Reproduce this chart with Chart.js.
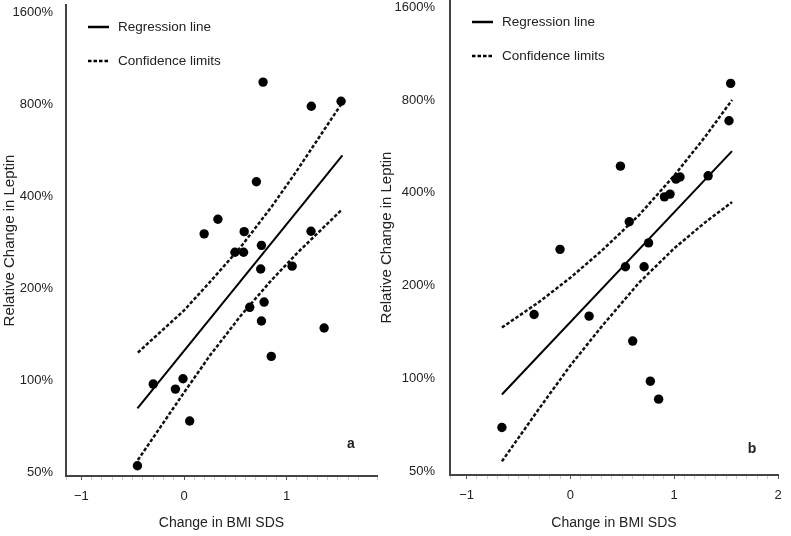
<!DOCTYPE html>
<html lang="en">
<head>
    <meta charset="UTF-8">
    <title>Relative Change in Leptin vs Change in BMI SDS</title>
    <script src="https://cdn.jsdelivr.net/npm/chart.js@4.4.1/dist/chart.umd.min.js"></script>
    <style>
        body { margin: 0; background: #fff; }
        #wrap { position: relative; width: 791px; height: 536px; }
        canvas { position: absolute; top: 0; }
        #chartA { left: 0; }
        #chartB { left: 378px; }
    </style>
</head>
<body>
    <div id="wrap">
        <canvas id="chartA" width="395" height="536"></canvas>
        <canvas id="chartB" width="413" height="536"></canvas>
    </div>
    <script>
        // y ticks (percent, log scale)
        const yTicks = [50, 100, 200, 400, 800, 1600];

        // panel a - measured points
        const aX = [0.77, 1.24, 1.53, 0.705, 0.33, 0.196, 0.586, 0.496, 0.58, 0.754, 1.237, 1.053,
                    0.747, 0.64, 0.78, 0.754, 1.365, 0.85, -0.30, -0.01, -0.084, 0.055, -0.454];
        const aY = [945, 788, 818, 446, 336, 301, 306, 262, 262, 276, 307, 236,
                    231, 173, 180, 156, 148, 119.5, 97, 101, 93.4, 73.4, 52.4];
        // panel a - regression line and confidence limits
        const aFitX = [-0.454, 1.543];
        const aFitY = [80.8, 544];
        const aBandX = [-0.45, 0, 0.25, 0.55, 0.85, 1.1, 1.54];
        const aUpperY = [123, 169, 209, 272, 368, 485, 808];
        const aLowerY = [54.7, 91, 120, 162, 212, 260, 362];

        // panel b - measured points
        const bX = [1.544, 1.528, 0.482, 1.327, 1.017, 1.056, 0.906, 0.96, 0.567, -0.10,
                    0.753, 0.53, 0.71, -0.35, 0.18, 0.60, 0.77, 0.85, -0.66];
        const bY = [906, 685, 488, 454, 443, 450, 388, 396, 322, 262,
                    275, 230, 230, 161, 159, 132, 97.8, 85.5, 69.2];
        // panel b - regression line and confidence limits
        const bFitX = [-0.66, 1.557];
        const bFitY = [88.5, 546];
        const bBandX = [-0.66, -0.3, 0, 0.3, 0.66, 1.0, 1.3, 1.557];
        const bUpperY = [146, 177, 212, 259, 338, 455, 609, 800];
        const bLowerY = [53.7, 79.8, 110, 147, 204, 264, 321, 373];

        const FONT = "'Liberation Sans', Arial, Helvetica, sans-serif";
        Chart.defaults.font.family = FONT;
        Chart.defaults.color = '#222';

        const toXY = (xs, ys) => xs.map((x, i) => ({ x: x, y: ys[i] }));
        const isMajor = v => Math.abs(v - Math.round(v)) < 1e-6;

        // legend + panel letter drawn inside the plot area
        const panelDecor = {
            id: 'panelDecor',
            afterDraw(chart, args, opts) {
                const ctx = chart.ctx;
                const area = chart.chartArea;
                const items = [
                    { label: 'Regression line', dash: [], dy: 22 },
                    { label: 'Confidence limits', dash: [3.5, 2], dy: 56 }
                ];
                ctx.save();
                items.forEach(it => {
                    const y = area.top + it.dy;
                    ctx.beginPath();
                    ctx.setLineDash(it.dash);
                    ctx.lineWidth = 2.5;
                    ctx.strokeStyle = '#000';
                    ctx.moveTo(area.left + 22, y);
                    ctx.lineTo(area.left + 43, y);
                    ctx.stroke();
                    ctx.setLineDash([]);
                    ctx.fillStyle = '#222';
                    ctx.font = '13.5px ' + FONT;
                    ctx.textBaseline = 'middle';
                    ctx.textAlign = 'left';
                    ctx.fillText(it.label, area.left + 52, y);
                });
                ctx.font = 'bold 14px ' + FONT;
                ctx.textAlign = 'center';
                ctx.fillText(opts.letter, area.right + opts.dx, area.bottom + opts.dy);
                ctx.restore();
            }
        };

        function makePanel(id, cfg) {
            return new Chart(document.getElementById(id), {
                type: 'scatter',
                data: {
                    datasets: [
                        {
                            label: 'Subjects',
                            data: toXY(cfg.x, cfg.y),
                            pointRadius: 4.7,
                            pointBackgroundColor: '#000',
                            pointBorderWidth: 0
                        },
                        {
                            label: 'Regression line',
                            data: toXY(cfg.fitX, cfg.fitY),
                            showLine: true,
                            pointRadius: 0,
                            borderColor: '#000',
                            borderWidth: 2
                        },
                        {
                            label: 'Confidence limits',
                            data: toXY(cfg.bandX, cfg.upperY),
                            showLine: true,
                            pointRadius: 0,
                            borderColor: '#111',
                            borderWidth: 2.5,
                            borderDash: [3.5, 2]
                        },
                        {
                            label: 'Confidence limits (lower)',
                            data: toXY(cfg.bandX, cfg.lowerY),
                            showLine: true,
                            pointRadius: 0,
                            borderColor: '#111',
                            borderWidth: 2.5,
                            borderDash: [3.5, 2]
                        }
                    ]
                },
                options: {
                    responsive: false,
                    animation: false,
                    layout: { padding: cfg.padding, autoPadding: false },
                    plugins: {
                        legend: { display: false },
                        tooltip: { enabled: false },
                        panelDecor: { letter: cfg.letter, dx: cfg.letterDx, dy: cfg.letterDy }
                    },
                    scales: {
                        x: {
                            type: 'linear',
                            min: cfg.xMin,
                            max: cfg.xMax,
                            afterFit: s => { s.height = cfg.xHeight; },
                            border: { display: true, color: '#444', width: 2 },
                            grid: {
                                display: true,
                                drawOnChartArea: false,
                                drawTicks: true,
                                tickLength: 4,
                                tickWidth: 1,
                                tickColor: c => isMajor(c.tick.value) ? '#555' : '#ccc'
                            },
                            ticks: {
                                stepSize: 0.1,
                                autoSkip: false,
                                maxRotation: 0,
                                padding: 9,
                                font: { size: 13 },
                                callback: v => isMajor(v) ? String(Math.round(v)).replace('-', '\u2212') : ''
                            },
                            title: {
                                display: true,
                                text: 'Change in BMI SDS',
                                font: { size: 14 },
                                padding: { top: 0, bottom: 4 }
                            }
                        },
                        y: {
                            type: 'logarithmic',
                            min: 48.5,
                            max: 1690,
                            afterFit: s => {
                                s.width = cfg.yWidth;
                                s.paddingTop = 0;
                                s.paddingBottom = 0;
                            },
                            afterBuildTicks: s => { s.ticks = yTicks.map(v => ({ value: v })); },
                            border: { display: true, color: '#444', width: 2 },
                            grid: { display: false },
                            ticks: {
                                padding: cfg.yPad,
                                font: { size: 13 },
                                callback: v => v + '%'
                            },
                            title: {
                                display: true,
                                text: 'Relative Change in Leptin',
                                font: { size: 15 },
                                padding: { top: cfg.yTitlePad, bottom: 0 }
                            }
                        }
                    }
                },
                plugins: [panelDecor]
            });
        }

        makePanel('chartA', {
            x: aX, y: aY, fitX: aFitX, fitY: aFitY,
            bandX: aBandX, upperY: aUpperY, lowerY: aLowerY,
            xMin: -1.15, xMax: 1.88,
            padding: { top: 5, right: 18, left: 0, bottom: 0 },
            yWidth: 66, xHeight: 60, yPad: 5, yTitlePad: 1,
            letter: 'a', letterDx: -26, letterDy: -32
        });

        makePanel('chartB', {
            x: bX, y: bY, fitX: bFitX, fitY: bFitY,
            bandX: bBandX, upperY: bUpperY, lowerY: bLowerY,
            xMin: -1.16, xMax: 2.0,
            padding: { top: 0, right: 13, left: 0, bottom: 0 },
            yWidth: 72, xHeight: 61, yPad: 7, yTitlePad: 0,
            letter: 'b', letterDx: -26, letterDy: -26
        });
    </script>
</body>
</html>
